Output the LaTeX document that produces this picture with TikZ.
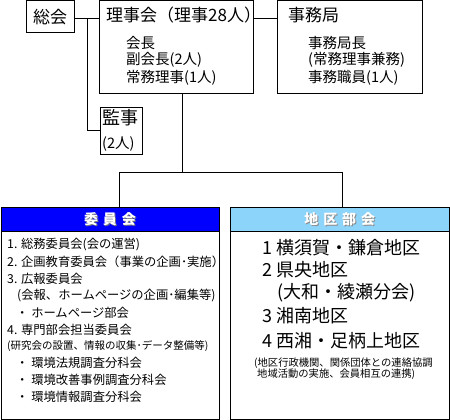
\documentclass[tikz,border=0pt]{standalone}
\usepackage{fontspec}
\setmainfont{Noto Sans CJK JP}
\newfontfamily\jpfont{Noto Sans CJK JP}
\definecolor{hdrblue}{HTML}{0000FF}
\definecolor{hdrlight}{HTML}{8DD4FB}
\begin{document}
\begin{tikzpicture}[x=1pt,y=-1pt,
  box/.style={draw, line width=1pt, inner sep=0pt, rectangle},
  ln/.style={line width=1pt},
  txt/.style={inner sep=0pt, anchor=west, text=black},
  ttl/.style={font=\fontsize{17}{17}\selectfont},
  sub/.style={font=\fontsize{14.5}{14.5}\selectfont},
  lst/.style={font=\fontsize{12.3}{12.3}\selectfont},
  sml/.style={font=\fontsize{10.5}{10.5}\selectfont},
  big/.style={font=\fontsize{18}{18}\selectfont},
  hdr/.style={font=\fontsize{14}{14}\selectfont\bfseries, inner sep=0pt}]
\useasboundingbox (0,0) rectangle (450,420);
\fill[white] (0,0) rectangle (450,420);
% boxes
\node[box, minimum width=48pt, minimum height=32.5pt] (soukai) at (50,16.75) {};
\node[box, minimum width=154pt, minimum height=93.5pt] (riji) at (176.5,47.25) {};
\node[box, minimum width=145pt, minimum height=93.5pt] (jimu) at (349.5,47.25) {};
\node[box, minimum width=42pt, minimum height=47pt] (kanji) at (121,130.5) {};
\node[box, fill=hdrblue, minimum width=218pt, minimum height=24pt] (iinH) at (110,219) {};
\node[box, minimum width=218pt, minimum height=188pt] (iinB) at (110,325) {};
\node[box, fill=hdrlight, minimum width=218.5pt, minimum height=24pt] (chiH) at (339.75,219) {};
\node[box, minimum width=218.5pt, minimum height=188pt] (chiB) at (339.75,325) {};
% connectors
\coordinate (j1) at (87,19);
\draw[ln] (soukai.east |- j1) -- (riji.west |- j1);
\draw[ln] (j1) |- (kanji.west);
\draw[ln] (riji.east |- j1) -- (jimu.west |- j1);
\coordinate (j2) at (182,172);
\coordinate (jl) at (119,172);
\coordinate (jr) at (342,172);
\draw[ln] (riji.south -| j2) -- (j2);
\draw[ln] (iinH.north -| jl) |- (jr) -- (chiH.north -| jr);
% top texts
\node[ttl, inner sep=0pt] (tsoukai) at (soukai.center) {総会};
\node[txt, ttl] (triji) at (106,15) {理事会（理事28人）};
\node[txt, sub] (r1) at (126,43) {会長};
\node[txt, sub] (r2) at (126,60) {副会長(2人)};
\node[txt, sub] (r3) at (126,78) {常務理事(1人)};
\node[txt, ttl] (tjimu) at (288,15) {事務局};
\node[txt, sub] (s1) at (308,43) {事務局長};
\node[txt, sub] (s2) at (308,60) {(常務理事兼務)};
\node[txt, sub] (s3) at (308,78) {事務職員(1人)};
\node[txt, font=\fontsize{18}{18}\selectfont] (tkanji) at (102,118) {監事};
\node[txt, sub] (k1) at (102,144) {(2人)};
% headers
\node[hdr, text=black!55] at ([shift={(1,1)}]iinH.center) {委\hspace{5pt}員\hspace{5pt}会};
\node[hdr, text=white] (tiin) at (iinH.center) {委\hspace{5pt}員\hspace{5pt}会};
\node[hdr, text=black!45] at ([shift={(1,1)}]chiH.center) {地\hspace{5pt}区\hspace{5pt}部\hspace{5pt}会};
\node[hdr, text=white] (tchi) at (chiH.center) {地\hspace{5pt}区\hspace{5pt}部\hspace{5pt}会};
% left list
\node[txt, lst] (a1) at (7,245) {1. 総務委員会(会の運営)};
\node[txt, lst] (a2) at (7,262) {2. 企画教育委員会（事業の企画･実施）};
\node[txt, lst] (a3) at (7,279) {3. 広報委員会};
\node[txt, lst] (a4) at (17,296) {(会報、ホームページの企画･編集等)};
\node[txt, lst] (a5) at (16,313) {・ ホームページ部会};
\node[txt, lst] (a6) at (7,330) {4. 専門部会担当委員会};
\node[txt, sml] (a7) at (7,346) {(研究会の設置、情報の収集･データ整備等)};
\node[txt, lst] (a8) at (16,363) {・ 環境法規調査分科会};
\node[txt, lst] (a9) at (16,380) {・ 環境改善事例調査分科会};
\node[txt, lst] (a10) at (16,397) {・ 環境情報調査分科会};
% right list
\node[txt, big] (b1) at (262,248) {1 横須賀・鎌倉地区};
\node[txt, big] (b2) at (262,270) {2 県央地区};
\node[txt, big] (b3) at (277,292.5) {(大和・綾瀬分会)};
\node[txt, big] (b4) at (262,316) {3 湘南地区};
\node[txt, big] (b5) at (262,341) {4 西湘・足柄上地区};
\node[txt, font=\fontsize{10.3}{10.3}\selectfont] (b6) at (254,363) {(地区行政機関、関係団体との連絡協調};
\node[txt, font=\fontsize{10.3}{10.3}\selectfont] (b7) at (257,374) {地域活動の実施、会員相互の連携)};
\end{tikzpicture}
\end{document}
